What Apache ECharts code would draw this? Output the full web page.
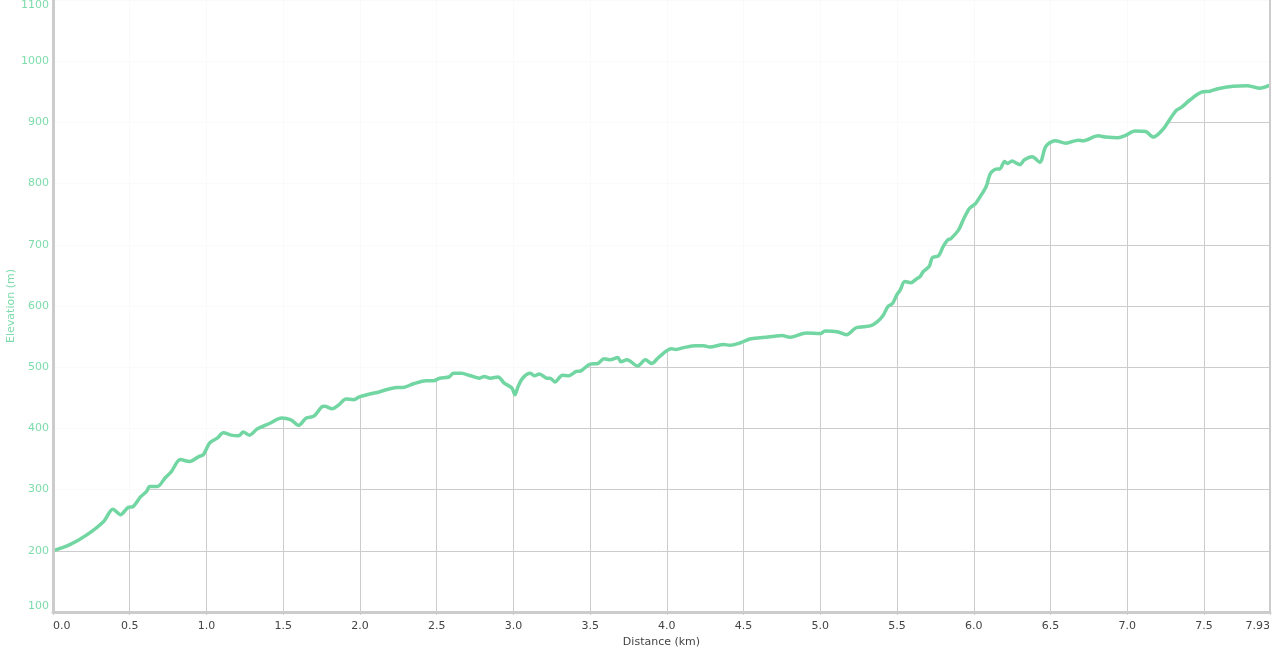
<!DOCTYPE html>
<html>
<head>
<meta charset="UTF-8">
<title>Elevation profile</title>
<script type="text/javascript" src="https://cdn.jsdelivr.net/npm/echarts@6/dist/echarts.min.js"></script>
<style>
  html, body { margin: 0; padding: 0; background: #fff; }
  #main { width: 1277px; height: 654px; }
</style>
</head>
<body>
<div id="main"></div>
<script type="text/javascript">
// distance (km) and elevation (m)
var distance = [
  0.00, 0.11, 0.22, 0.33, 0.39, 0.44, 0.49, 0.52, 0.57, 0.61, 0.63, 0.68, 0.73, 0.77, 0.83, 0.89, 0.95, 0.98,
  1.02, 1.07, 1.11, 1.16, 1.21, 1.24, 1.28, 1.33, 1.41, 1.49, 1.55, 1.60, 1.65, 1.70, 1.75, 1.77, 1.82, 1.86,
  1.91, 1.96, 2.00, 2.13, 2.24, 2.28, 2.35, 2.43, 2.48, 2.52, 2.58, 2.61, 2.66, 2.72, 2.78, 2.81, 2.85, 2.90,
  2.94, 2.99, 3.01, 3.03, 3.06, 3.11, 3.14, 3.17, 3.22, 3.24, 3.27, 3.32, 3.36, 3.41, 3.44, 3.50, 3.55, 3.59,
  3.63, 3.68, 3.70, 3.74, 3.81, 3.86, 3.90, 3.95, 4.03, 4.06, 4.11, 4.19, 4.24, 4.28, 4.37, 4.41, 4.48, 4.54,
  4.61, 4.69, 4.75, 4.80, 4.91, 5.00, 5.03, 5.11, 5.17, 5.23, 5.28, 5.33, 5.37, 5.41, 5.44, 5.47, 5.50, 5.52,
  5.55, 5.59, 5.63, 5.65, 5.67, 5.71, 5.73, 5.77, 5.80, 5.83, 5.85, 5.90, 5.93, 5.97, 6.01, 6.04, 6.08, 6.11,
  6.15, 6.17, 6.20, 6.22, 6.25, 6.28, 6.30, 6.33, 6.38, 6.43, 6.47, 6.53, 6.60, 6.68, 6.71, 6.81, 6.86, 6.94,
  6.99, 7.05, 7.12, 7.17, 7.23, 7.28, 7.32, 7.35, 7.41, 7.48, 7.54, 7.59, 7.69, 7.78, 7.86, 7.93
];
var elevation = [
  200, 210, 226, 248, 268, 259, 271, 272, 288, 297, 305, 305, 319, 329, 349, 346, 354, 357,
  376, 384, 393, 389, 388, 394, 389, 399, 408, 417, 414, 405, 417, 420, 435, 436, 432, 438,
  448, 447, 452, 460, 467, 467, 473, 478, 478, 482, 484, 490, 490, 486, 482, 485, 482, 484,
  474, 466, 455, 468, 482, 490, 486, 489, 482, 482, 476, 487, 486, 493, 494, 505, 506, 514,
  512, 516, 509, 512, 502, 512, 506, 517, 530, 529, 532, 535, 535, 533, 537, 536, 540, 546,
  548, 550, 552, 549, 556, 555, 559, 558, 553, 564, 566, 568, 574, 585, 599, 604, 619, 626,
  640, 638, 645, 648, 656, 665, 679, 682, 697, 708, 710, 724, 740, 759, 767, 778, 795, 817,
  824, 824, 836, 833, 837, 833, 831, 839, 844, 835, 861, 870, 866, 871, 870, 878, 876, 875,
  879, 886, 885, 876, 888, 906, 920, 924, 937, 949, 951, 955, 959, 960, 956, 961
];
var distMax = 7.93;
var elevMin = 100;
var elevMax = 1100;

var points = distance.map(function (d, i) { return [d, elevation[i]]; });

var green = '#72d6a2';
var labelGreen = '#7ddcab';
var gridGray = '#cccccc';
var font = 'DejaVu Sans, Verdana, sans-serif';

var myChart = echarts.init(document.getElementById('main'));

var option = {
  animation: false,
  grid: { left: 53, right: 7, top: 0, bottom: 42, outerBoundsMode: 'none', containLabel: false },
  xAxis: [{
    type: 'value',
    min: 0,
    max: distMax,
    interval: 0.5,
    name: 'Distance (km)',
    nameLocation: 'middle',
    nameGap: 24,
    nameTextStyle: { color: '#444', fontSize: 11, fontFamily: font },
    axisLine: { show: true, lineStyle: { color: gridGray, width: 3 } },
    axisTick: { show: true, length: 3, lineStyle: { color: gridGray } },
    axisLabel: {
      color: '#444', fontSize: 11, fontFamily: font, margin: 9,
      alignMinLabel: 'left',
      alignMaxLabel: 'right',
      formatter: function (v) {
        return Math.abs(v - distMax) < 1e-6 ? distMax.toFixed(2) : v.toFixed(1);
      }
    },
    splitLine: { show: true, lineStyle: { color: gridGray, width: 1 } }
  }],
  yAxis: [{
    type: 'value',
    min: elevMin,
    max: elevMax,
    interval: 100,
    name: 'Elevation (m)',
    nameLocation: 'middle',
    nameGap: 36,
    nameMoveOverlap: false,
    nameRotate: 90,
    nameTextStyle: { color: labelGreen, fontSize: 11, fontFamily: font },
    axisLine: { show: false },
    axisTick: { show: false },
    axisLabel: {
      color: labelGreen, fontSize: 11, fontFamily: font, margin: 4,
      verticalAlignMaxLabel: 'top',
      verticalAlignMinLabel: 'bottom',
      formatter: function (v) { return String(v); }
    },
    splitLine: { show: true, lineStyle: { color: gridGray, width: 1 } }
  }, {
    // frame line on the left, drawn above the series
    type: 'value', position: 'left', min: elevMin, max: elevMax, z: 10,
    axisLine: { show: true, lineStyle: { color: gridGray, width: 3 } },
    axisTick: { show: false }, axisLabel: { show: false }, splitLine: { show: false }
  }, {
    // frame line on the right
    type: 'value', position: 'right', min: elevMin, max: elevMax, z: 10,
    axisLine: { show: true, lineStyle: { color: gridGray, width: 2 } },
    axisTick: { show: false }, axisLabel: { show: false }, splitLine: { show: false }
  }],
  series: [{
    type: 'line',
    data: points,
    showSymbol: false,
    smooth: 0.3,
    z: 3,
    lineStyle: { color: green, width: 3.5 },
    // veil everything above the profile
    areaStyle: { origin: 'end', color: 'rgba(255,255,255,0.9)', opacity: 1 }
  }]
};

myChart.setOption(option);
</script>
</body>
</html>
